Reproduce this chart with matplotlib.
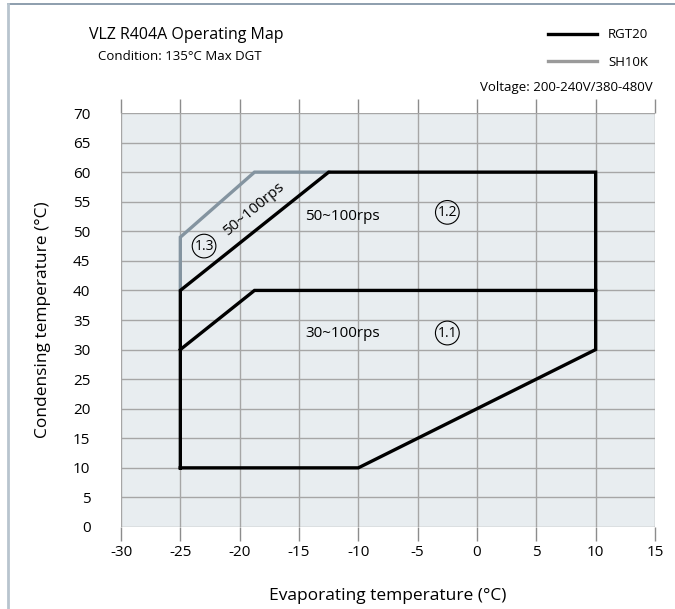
import matplotlib
matplotlib.use("Agg")
import matplotlib.pyplot as plt
from matplotlib.lines import Line2D

plt.rcParams['font.family'] = ['Open Sans', 'DejaVu Sans']

# Data
rgt20_outer_x = [-25, -10, 10, 10, -12.5, -25, -25]
rgt20_outer_y = [10, 10, 30, 60, 60, 40, 10]
rgt20_inner_x = [-25, -18.75, 10]
rgt20_inner_y = [30, 40, 40]
sh10k_x = [-25, -25, -18.75, -12.5]
sh10k_y = [40, 49, 60, 60]

x_ticks = list(range(-30, 20, 5))
y_ticks = list(range(0, 75, 5))

zone_labels = ["50~100rps", "30~100rps"]
zone_label_pos = [(-14.5, 52.5), (-14.5, 32.8)]
circle_labels = ["1.2", "1.1", "1.3"]
circle_pos = [(-2.5, 53.2), (-2.5, 32.8), (-23.0, 47.5)]
diag_label = "50~100rps"
diag_pos = (-18.8, 53.8)

black = "#000000"
grey = "#8494a0"

fig = plt.figure(figsize=(6.75, 6.09), dpi=100)
ax = fig.add_axes([121/675, 1-527/609, (655-121)/675, (527-113)/609])
ax.set_facecolor("#e8edf0")
ax.set_xlim(-30, 15)
ax.set_ylim(0, 70)
ax.set_xticks(x_ticks)
ax.set_yticks(y_ticks)
ax.set_xticklabels([str(v) for v in x_ticks], fontsize=11)
ax.set_yticklabels([str(v) for v in y_ticks], fontsize=11)
ax.grid(True, color="#a6a6a6", linewidth=1.0)
ax.set_axisbelow(True)
for s in ["top", "right", "left", "bottom"]:
    ax.spines[s].set_visible(False)
ax.tick_params(axis='x', direction='out', length=10, color="#8c8c8c", width=1.0,
               top=True, bottom=True, labeltop=False, pad=3)
ax.tick_params(axis='y', length=0, pad=22)

ax.plot(sh10k_x, sh10k_y, color=grey, linewidth=2.4, solid_joinstyle='miter', zorder=3)
ax.plot(rgt20_outer_x, rgt20_outer_y, color=black, linewidth=2.4, solid_joinstyle='miter', zorder=4)
ax.plot(rgt20_inner_x, rgt20_inner_y, color=black, linewidth=2.4, solid_joinstyle='miter', zorder=4)

for t, (x, y) in zip(zone_labels, zone_label_pos):
    ax.text(x, y, t, fontsize=11, ha='left', va='center', zorder=5)
for t, (x, y) in zip(circle_labels, circle_pos):
    ax.text(x, y, t, fontsize=10, ha='center', va='center', zorder=5,
            bbox=dict(boxstyle='circle,pad=0.15', fc='none', ec='black', lw=0.8))
ax.text(diag_pos[0], diag_pos[1], diag_label, fontsize=11, ha='center', va='center',
        rotation=40, rotation_mode='anchor', zorder=5)

ax.set_xlabel("Evaporating temperature (\u00b0C)", fontsize=12.5, labelpad=20)
ax.set_ylabel("Condensing temperature (\u00b0C)", fontsize=12.5, labelpad=16)

# Titles
fig.text(186/675, 1-35/609, "VLZ R404A Operating Map", fontsize=11.5, ha='center', va='center')
fig.text(180/675, 1-56/609, "Condition: 135\u00b0C Max DGT", fontsize=9.5, ha='center', va='center')

# Legend
fig.add_artist(Line2D([548/675, 597/675], [1-34/609, 1-34/609], color=black, linewidth=2.4))
fig.add_artist(Line2D([548/675, 597/675], [1-61/609, 1-61/609], color="#9a9a9a", linewidth=2.4))
fig.text(608/675, 1-35/609, "RGT20", fontsize=9.5, ha='left', va='center')
fig.text(608/675, 1-62/609, "SH10K", fontsize=9.5, ha='left', va='center')
fig.text(653/675, 1-87/609, "Voltage: 200-240V/380-480V", fontsize=9.5, ha='right', va='center')

# Frame
fig.add_artist(Line2D([8/675, 1.0], [1-4/609, 1-4/609], color="#7a8ea0", linewidth=1.2))
fig.add_artist(Line2D([8/675, 8/675], [0, 1-4/609], color="#b8c4ce", linewidth=2.0))

fig.savefig("out.png", dpi=100)
